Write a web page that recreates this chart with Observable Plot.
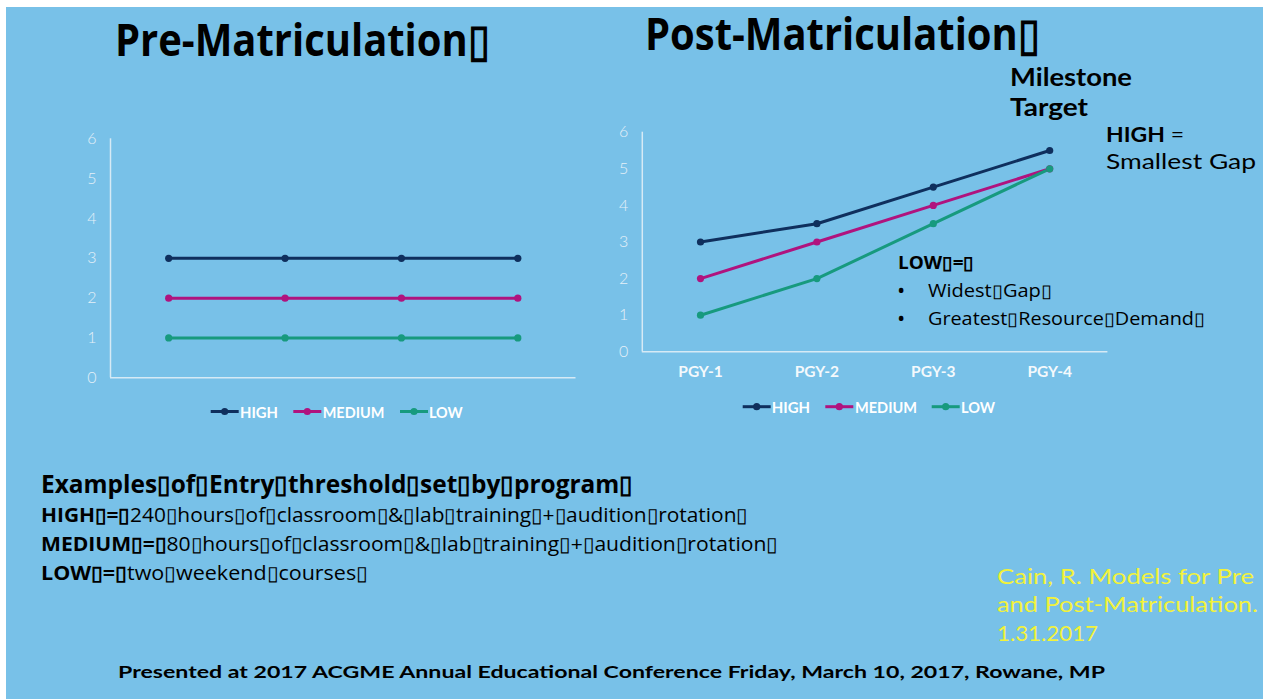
<!DOCTYPE html>
<html><head><meta charset="utf-8">
<script src="https://cdn.jsdelivr.net/npm/d3@7"></script>
<script src="https://cdn.jsdelivr.net/npm/@observablehq/plot@0.6"></script>
<style>
html,body{margin:0;padding:0;background:#fff;}
#page{position:relative;width:1263px;height:699px;overflow:hidden;}
#bg{position:absolute;left:6px;top:7px;width:1257px;height:692px;background:#78C1E8;}
.chart{position:absolute;}
#pre{left:40px;top:120px;}
#post{left:600px;top:115px;}
#overlay{position:absolute;left:0;top:0;}
</style></head><body>
<div id="page"><div id="bg"></div><div id="pre" class="chart"></div><div id="post" class="chart"></div><svg id="overlay" width="1263" height="699"></svg></div>
<script>
// ---- data ----
const categories = ["PGY-1", "PGY-2", "PGY-3", "PGY-4"];
const series = ["HIGH", "MEDIUM", "LOW"];
const preHigh = [3, 3, 3, 3];
const preMedium = [2, 2, 2, 2];
const preLow = [1, 1, 1, 1];
const postHigh = [3, 3.5, 4.5, 5.5];
const postMedium = [2, 3, 4, 5];
const postLow = [1, 2, 3.5, 5];
const yTicks = [0, 1, 2, 3, 4, 5, 6];
const colors = ["#0F2F5D", "#B0137E", "#179A7E"];

const B = "\u25AF";
const titlePre = "Pre-Matriculation" + B;
const titlePost = "Post-Matriculation" + B;

function rowsOf(values) {
  const rows = [];
  series.forEach((s, k) => values[k].forEach((v, i) => rows.push({i, cat: categories[i], series: s, value: v})));
  return rows;
}

function chart(values, {width, height, marginLeft, marginRight, marginTop, marginBottom, showX}) {
  const rows = rowsOf(values);
  return Plot.plot({
    width, height, marginLeft, marginRight, marginTop, marginBottom,
    style: {background: "transparent", fontFamily: "Lato, sans-serif", overflow: "visible"},
    x: showX ? {domain: [-0.5, 3.5], label: null} : {domain: [-0.5, 3.5], axis: null, label: null},
    y: {domain: [0, 6], label: null},
    color: {domain: series, range: colors},
    marks: [
      Plot.ruleY([0], {stroke: "#D6EAF5", strokeWidth: 1.5}),
      Plot.ruleX([-0.5], {y1: 0, y2: 6, stroke: "#D6EAF5", strokeWidth: 1.5}),
      Plot.axisY(yTicks, {label: null, tickSize: 0, tickPadding: 14, fontSize: 16, color: "#E4F0F8", fontWeight: 300}),
      showX ? Plot.axisX([0, 1, 2, 3], {label: null, tickSize: 0, tickPadding: 14, tickFormat: i => categories[i], fontSize: 15.5, fontWeight: "bold", color: "#F4F9FC", letterSpacing: 1.2}) : null,
      Plot.line(rows, {x: "i", y: "value", z: "series", stroke: "series", strokeWidth: 3}),
      Plot.dot(rows, {x: "i", y: "value", fill: "series", r: 3.6})
    ].filter(Boolean)
  });
}

document.getElementById("pre").appendChild(chart([preHigh, preMedium, preLow],
  {width: 560, height: 280, marginLeft: 70, marginRight: 24.5, marginTop: 18.3, marginBottom: 22.7, showX: false}));
document.getElementById("post").appendChild(chart([postHigh, postMedium, postLow],
  {width: 520, height: 280, marginLeft: 41.8, marginRight: 12.6, marginTop: 16.7, marginBottom: 43.7, showX: true}));

// ---- overlay text ----
const ov = d3.select("#overlay");
function txt(x, y, parts, o) {
  const t = ov.append("text").attr("x", x).attr("y", y)
    .attr("font-family", o.family || "'Open Sans', sans-serif")
    .attr("font-size", o.size).attr("fill", o.fill || "#000")
    .attr("font-weight", o.weight || 400);
  if (o.len) t.attr("textLength", o.len).attr("lengthAdjust", "spacingAndGlyphs");
  (Array.isArray(parts) ? parts : [[parts, o.weight || 400]]).forEach(([s, w]) => t.append("tspan").attr("font-weight", w).text(s));
  return t;
}

txt(115, 56, titlePre, {size: 45, weight: 700, len: 375});
txt(645, 50, titlePost, {size: 45, weight: 700, len: 395});

const geo = "Lato, sans-serif";
txt(1010, 86, "Milestone", {size: 24, weight: 700, family: geo, len: 122});
txt(1010, 116, "Target", {size: 24, weight: 700, family: geo, len: 78});
txt(1106, 142, [["HIGH", 700], [" =", 400]], {size: 21, family: geo, len: 78});
txt(1106, 169, "Smallest Gap", {size: 21, family: geo, len: 150});

txt(898, 269, [["LOW" + B + "=" + B, 700]], {size: 18, len: 76});
txt(897, 298, "\u2022", {size: 22});
txt(928, 297, "Widest" + B + "Gap" + B, {size: 18, len: 124});
txt(897, 326, "\u2022", {size: 22});
txt(928, 325, "Greatest" + B + "Resource" + B + "Demand" + B, {size: 18, len: 277});

txt(41, 493, "Examples" + B + "of" + B + "Entry" + B + "threshold" + B + "set" + B + "by" + B + "program" + B, {size: 25, weight: 700, len: 592});
txt(41, 522, [["HIGH" + B + "=" + B, 700], ["240" + B + "hours" + B + "of" + B + "classroom" + B + "&" + B + "lab" + B + "training" + B + "+" + B + "audition" + B + "rotation" + B, 400]], {size: 20, len: 707});
txt(41, 551, [["MEDIUM" + B + "=" + B, 700], ["80" + B + "hours" + B + "of" + B + "classroom" + B + "&" + B + "lab" + B + "training" + B + "+" + B + "audition" + B + "rotation" + B, 400]], {size: 20, len: 737});
txt(41, 580, [["LOW" + B + "=" + B, 700], ["two" + B + "weekend" + B + "courses" + B, 400]], {size: 20, len: 327});

const yel = "#F2F23A";
txt(997, 584, "Cain, R. Models for Pre", {size: 21, family: geo, fill: yel, len: 257});
txt(997, 612, "and Post-Matriculation.", {size: 21, family: geo, fill: yel, len: 261});
txt(997, 640.5, "1.31.2017", {size: 21, family: geo, fill: yel, len: 101});

txt(118, 678, "Presented at 2017 ACGME Annual Educational Conference Friday, March 10, 2017, Rowane, MP", {size: 17, weight: 700, family: geo, len: 987});

// ---- legends ----
function legend(items, baseline) {
  items.forEach(([x0, tx, tlen], k) => {
    const cy = baseline - 6;
    ov.append("line").attr("x1", x0).attr("x2", x0 + 28).attr("y1", cy).attr("y2", cy)
      .attr("stroke", colors[k]).attr("stroke-width", 3);
    ov.append("circle").attr("cx", x0 + 14).attr("cy", cy).attr("r", 3.6).attr("fill", colors[k]);
    txt(tx, baseline, series[k], {size: 16, weight: 700, family: geo, fill: "#FFFFFF", len: tlen});
  });
}
legend([[210.7, 240, 38], [293.3, 322.7, 61.6], [400, 429, 33.7]], 417.5);
legend([[742.7, 771.7, 38.3], [825.3, 855, 62], [931.7, 961, 34]], 412.7);
</script>
</body></html>
